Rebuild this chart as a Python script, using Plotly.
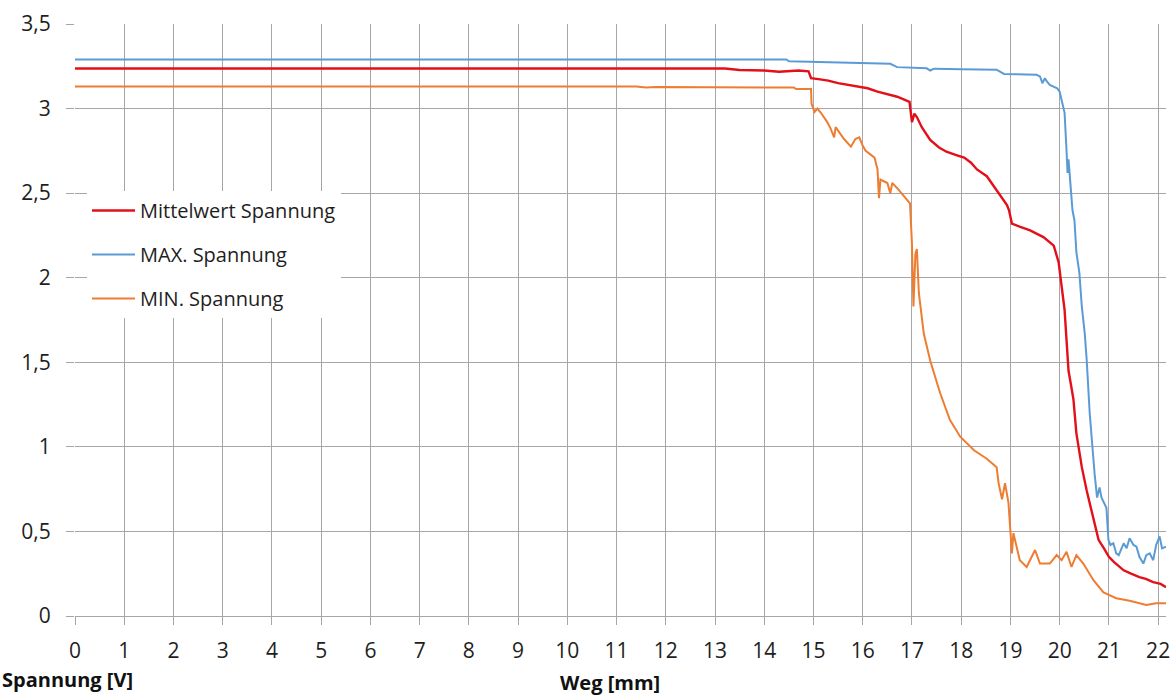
import plotly.graph_objects as go

# Weg [mm] / Spannung [V]
mittel_x = [0, 13.2, 13.5, 14.0, 14.3, 14.7, 14.9, 14.95, 15.1, 15.3, 15.5, 15.7, 15.9, 16.1, 16.3,
            16.5, 16.7, 16.95, 16.98, 17.0, 17.05, 17.1, 17.2, 17.37, 17.55, 17.7, 17.9, 18.06, 18.2,
            18.32, 18.52, 18.72, 18.93, 18.97, 19.03, 19.2, 19.4, 19.67, 19.88, 19.98, 20.04, 20.1,
            20.14, 20.18, 20.24, 20.28, 20.34, 20.45, 20.55, 20.69, 20.79, 20.9, 21.0, 21.1, 21.3,
            21.45, 21.62, 21.75, 21.9, 22.05, 22.16]
mittel_y = [3.237, 3.237, 3.228, 3.225, 3.218, 3.225, 3.22, 3.18, 3.174, 3.165, 3.15, 3.14, 3.134,
            3.12, 3.10, 3.085, 3.07, 3.04, 2.98, 2.92, 2.97, 2.95, 2.89, 2.815, 2.77, 2.745, 2.725,
            2.71, 2.68, 2.64, 2.60, 2.52, 2.43, 2.40, 2.32, 2.30, 2.28, 2.24, 2.19, 2.09, 1.95, 1.81,
            1.63, 1.45, 1.35, 1.28, 1.08, 0.88, 0.74, 0.58, 0.45, 0.40, 0.35, 0.32, 0.27, 0.25, 0.23,
            0.22, 0.20, 0.19, 0.17]

max_x = [0, 14.45, 14.5, 15.0, 15.5, 16.0, 16.56, 16.7, 17.0, 17.3, 17.37, 17.45, 18.0, 18.72, 18.87,
         19.2, 19.53, 19.6, 19.65, 19.7, 19.74, 19.8, 19.95, 20.0, 20.1, 20.14, 20.16, 20.18, 20.22,
         20.26, 20.3, 20.34, 20.40, 20.45, 20.51, 20.55, 20.61, 20.65, 20.71, 20.76, 20.81, 20.85,
         20.95, 20.99, 21.03, 21.09, 21.15, 21.2, 21.3, 21.36, 21.42, 21.5, 21.56, 21.62, 21.7,
         21.76, 21.83, 21.9, 21.96, 22.03, 22.08, 22.16]
max_y = [3.29, 3.29, 3.28, 3.277, 3.27, 3.268, 3.265, 3.245, 3.243, 3.238, 3.225, 3.236, 3.232,
         3.23, 3.205, 3.202, 3.20, 3.19, 3.15, 3.18, 3.16, 3.14, 3.12, 3.10, 2.975, 2.75, 2.62,
         2.70, 2.55, 2.40, 2.34, 2.15, 2.03, 1.83, 1.67, 1.51, 1.20, 1.04, 0.84, 0.70, 0.76, 0.70,
         0.64, 0.45, 0.42, 0.43, 0.37, 0.36, 0.43, 0.40, 0.46, 0.42, 0.41, 0.35, 0.31, 0.36, 0.37,
         0.33, 0.42, 0.47, 0.40, 0.41]

min_x = [0, 11.4, 11.6, 11.8, 14.6, 14.65, 14.95, 14.96, 15.02, 15.08, 15.15, 15.28, 15.35, 15.42,
         15.45, 15.55, 15.62, 15.76, 15.85, 15.93, 16.0, 16.06, 16.24, 16.3, 16.33, 16.36, 16.5,
         16.56, 16.6, 16.7, 16.84, 16.96, 17.0, 17.03, 17.07, 17.1, 17.14, 17.24, 17.37, 17.57,
         17.77, 17.98, 18.26, 18.52, 18.72, 18.76, 18.83, 18.89, 18.96, 19.03, 19.06, 19.19, 19.33,
         19.5, 19.6, 19.8, 19.94, 20.04, 20.14, 20.24, 20.34, 20.48, 20.69, 20.89, 21.15, 21.42,
         21.76, 21.96, 22.16]
min_y = [3.13, 3.13, 3.125, 3.128, 3.124, 3.115, 3.115, 3.03, 2.98, 3.0, 2.975, 2.92, 2.88, 2.83,
         2.89, 2.85, 2.82, 2.775, 2.82, 2.83, 2.78, 2.75, 2.71, 2.64, 2.47, 2.58, 2.56, 2.50, 2.56,
         2.53, 2.48, 2.44, 2.20, 1.83, 2.14, 2.17, 1.91, 1.67, 1.51, 1.32, 1.16, 1.06, 0.98, 0.93,
         0.88, 0.785, 0.69, 0.785, 0.67, 0.37, 0.49, 0.33, 0.29, 0.39, 0.31, 0.31, 0.36, 0.33,
         0.38, 0.29, 0.36, 0.31, 0.21, 0.14, 0.105, 0.09, 0.065, 0.075, 0.075]

x_ticks = list(range(0, 23))
y_ticks = [0, 0.5, 1, 1.5, 2, 2.5, 3, 3.5]
y_tick_labels = ["0", "0,5", "1", "1,5", "2", "2,5", "3", "3,5"]

FONT = "Open Sans"
GRID = "#a6a6a6"
TXT = "#1e1e1e"

fig = go.Figure()
fig.add_trace(go.Scatter(x=mittel_x, y=mittel_y, mode="lines", name="Mittelwert Spannung",
                         line=dict(color="#E3101A", width=2.4), legendgroup="a"))
fig.add_trace(go.Scatter(x=max_x, y=max_y, mode="lines", name="MAX. Spannung",
                         line=dict(color="#5B9BD5", width=2), legendgroup="b"))
fig.add_trace(go.Scatter(x=min_x, y=min_y, mode="lines", name="MIN. Spannung",
                         line=dict(color="#ED7D31", width=2), legendgroup="c"))

fig.update_layout(
    width=1170, height=699,
    margin=dict(l=75, r=0, t=24, b=83),
    paper_bgcolor="white", plot_bgcolor="white",
    font=dict(family=FONT, size=21, color=TXT),
    showlegend=True,
    legend=dict(x=0.011, y=0.718, xanchor="left", yanchor="top",
                bgcolor="white", borderwidth=0,
                font=dict(family=FONT, size=20, color=TXT),
                tracegroupgap=15, itemwidth=43),
    xaxis=dict(range=[0, 22.16], tickvals=x_ticks, showgrid=True, gridcolor=GRID, gridwidth=1.2,
               showline=True, linecolor=GRID, linewidth=1.2, ticks="outside", ticklen=8,
               tickcolor=GRID, tickwidth=1.2, zeroline=False, ticklabelstandoff=8,
               ticklabeloverflow="allow",
               tickfont=dict(family=FONT, size=21, color=TXT)),
    yaxis=dict(range=[0, 3.5], tickvals=y_ticks, ticktext=y_tick_labels, showgrid=True,
               gridcolor=GRID, gridwidth=1.2, showline=False, ticks="outside", ticklen=8,
               tickcolor=GRID, tickwidth=1.2, zeroline=False, ticklabelstandoff=11,
               ticklabeloverflow="allow",
               tickfont=dict(family=FONT, size=21, color=TXT)),
    annotations=[
        dict(text="<b>Spannung [V]</b>", xref="paper", yref="paper", x=-0.0685, y=-0.108,
             xanchor="left", yanchor="middle", showarrow=False,
             font=dict(family=FONT, size=20, color="#111111")),
        dict(text="<b>Weg [mm]</b>", xref="paper", yref="paper", x=0.49, y=-0.113,
             xanchor="center", yanchor="middle", showarrow=False,
             font=dict(family=FONT, size=20, color="#111111")),
    ],
)

fig.write_html("out.html")
